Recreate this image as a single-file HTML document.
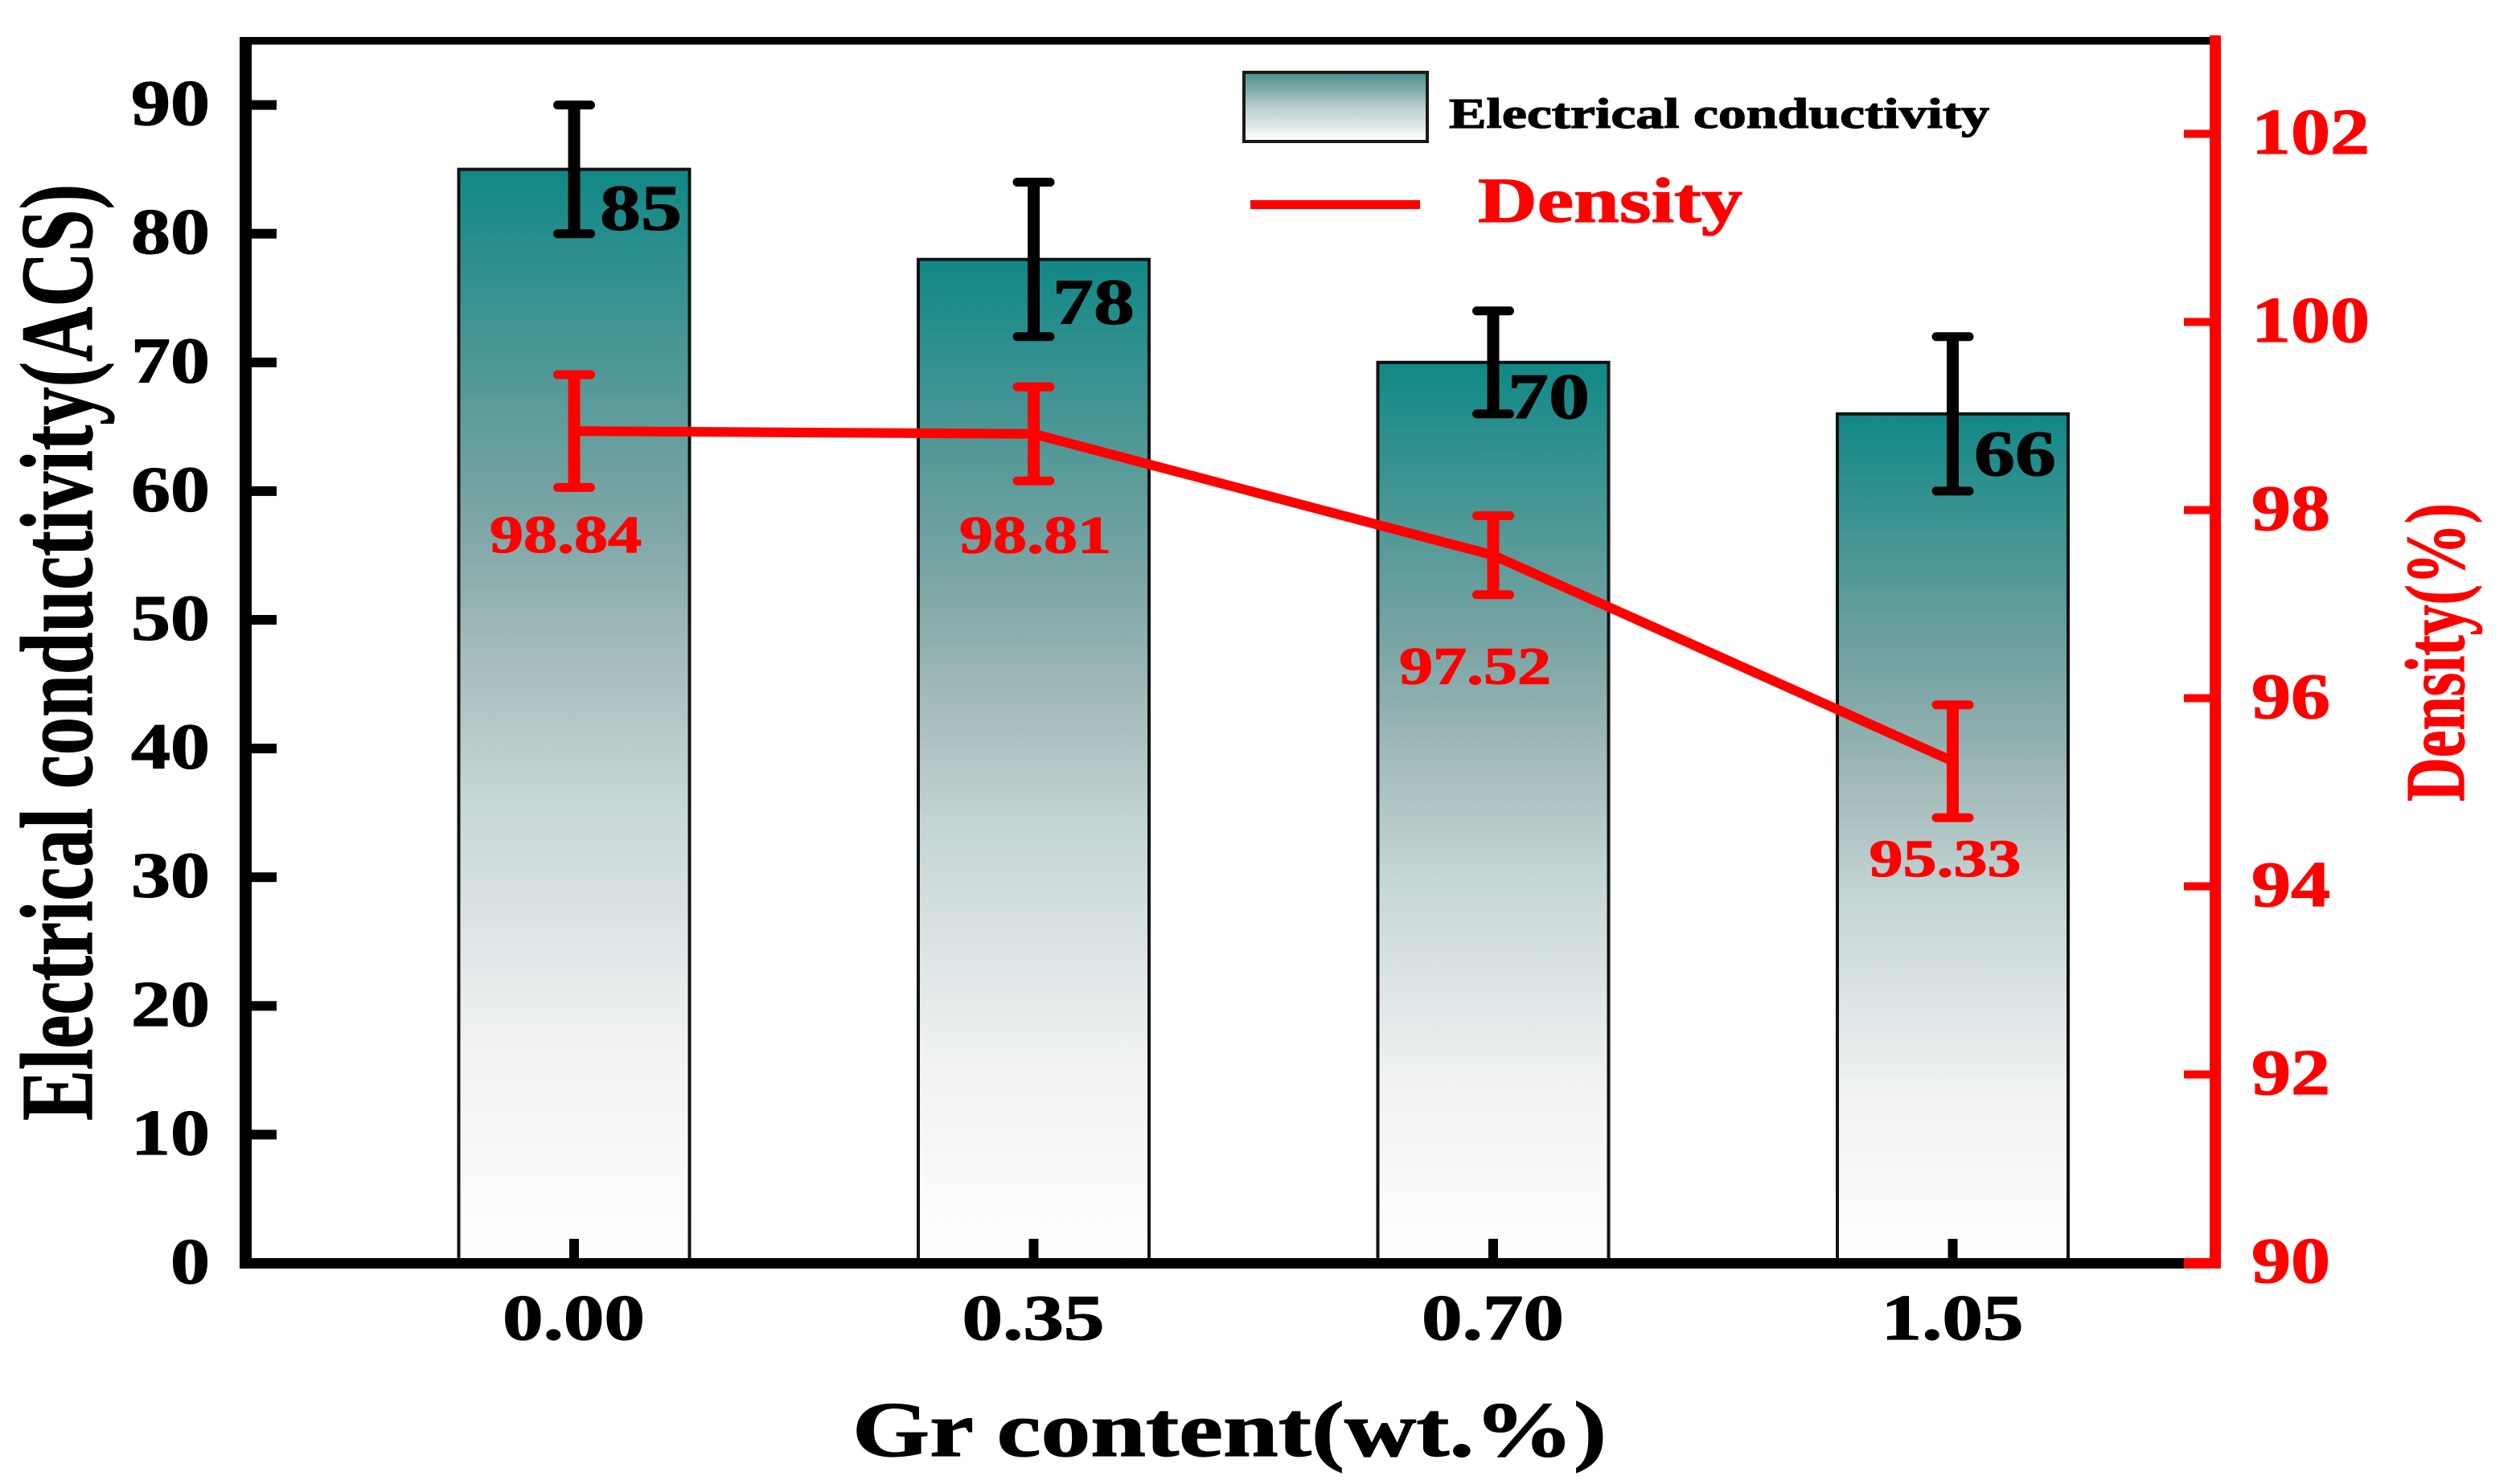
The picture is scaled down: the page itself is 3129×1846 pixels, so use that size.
<!DOCTYPE html>
<html lang="en">
<head>
<meta charset="utf-8">
<title>Electrical conductivity and density vs Gr content</title>
<style>
html,body{margin:0;padding:0;background:#fff;}
svg{display:block;}
text{font-family:"Liberation Serif",serif;font-weight:bold;stroke:#000;stroke-width:1.2px;}
text[fill="#ff0000"]{stroke:#ff0000;}
</style>
</head>
<body>
<svg id="chart" xmlns="http://www.w3.org/2000/svg" width="3129" height="1846" viewBox="0 0 3129 1846">
  <defs>
    <linearGradient id="barFill" x1="0" y1="0" x2="0" y2="1">
      <stop offset="0" stop-color="#108886"/>
      <stop offset="0.2" stop-color="#559a98"/>
      <stop offset="0.33" stop-color="#7fa7a7"/>
      <stop offset="0.42" stop-color="#9db7b7"/>
      <stop offset="0.57" stop-color="#c5d5d5"/>
      <stop offset="0.79" stop-color="#eff1f2"/>
      <stop offset="0.93" stop-color="#fafbfb"/>
      <stop offset="1" stop-color="#ffffff"/>
    </linearGradient>
    <linearGradient id="swatchFill" x1="0" y1="0" x2="0" y2="1">
      <stop offset="0" stop-color="#4a8c8c"/>
      <stop offset="0.5" stop-color="#b9cccc"/>
      <stop offset="1" stop-color="#ffffff"/>
    </linearGradient>
  </defs>
  <rect width="3129" height="1846" fill="#ffffff"/>
  <g id="bars"></g>
  <g id="blackErrors"></g>
  <g id="redSeries"></g>
  <g id="axes">
    <rect x="298" y="46" width="2450" height="9.5" fill="#000"/>
    <rect x="298" y="46" width="15" height="1532" fill="#000"/>
    <rect x="298" y="1565" width="2418" height="13" fill="#000"/>
    <rect x="2748" y="44" width="14" height="1534" fill="#ff0000"/>
    <rect x="2716" y="1565" width="46" height="13" fill="#ff0000"/>
  </g>
  <g id="ticks"></g>
  <g id="barLabels"></g>
  <g id="redLabels"></g>

  <text x="1060" y="1811" font-size="97" textLength="938" lengthAdjust="spacingAndGlyphs">Gr content(wt.%)</text>
  <text transform="translate(114,1394) rotate(-90)" x="0" y="0" font-size="128" textLength="1165" lengthAdjust="spacingAndGlyphs">Electrical conductivity(ACS)</text>
  <text fill="#ff0000" transform="translate(3064,997) rotate(-90)" x="0" y="0" font-size="105" textLength="371" lengthAdjust="spacingAndGlyphs">Density(%)</text>

  <g>
    <rect x="1547" y="90" width="228" height="86" fill="url(#swatchFill)" stroke="#1a1a1a" stroke-width="4"/>
    <text x="1802" y="159" font-size="53" textLength="672" lengthAdjust="spacingAndGlyphs">Electrical conductivity</text>
    <rect x="1555" y="249" width="211" height="11" fill="#ff0000"/>
    <text x="1838" y="276" font-size="79" fill="#ff0000" textLength="329" lengthAdjust="spacingAndGlyphs">Density</text>
  </g>
</svg>
<script>
var categories = ["0.00", "0.35", "0.70", "1.05"];
var conductivity = [85, 78, 70, 66];
var conductivityErr = [5, 6, 4, 6];
var density = [98.84, 98.81, 97.52, 95.33];
var densityErr = [0.6, 0.5, 0.42, 0.6];
var leftTickValues = [0, 10, 20, 30, 40, 50, 60, 70, 80, 90];
var rightTickValues = [90, 92, 94, 96, 98, 100, 102];

var NS = "http://www.w3.org/2000/svg";
function yLeft(v) { return 1571.5 - 16.01 * v; }
function yRight(v) { return 1570.5 - 117 * (v - 90); }
function xCat(i) { return 714 + 571.5 * i; }

function make(parent, tag, attrs, txt) {
  var el = document.createElementNS(NS, tag);
  for (var k in attrs) { el.setAttribute(k, attrs[k]); }
  if (txt !== undefined) { el.textContent = txt; }
  parent.appendChild(el);
  return el;
}
function g(id) { return document.getElementById(id); }

var BAR_W = 287;
var barNudgeX = [32, 23.5, 18, 26.5];
var barNudgeY = [75, 80, 69, 76];
var redNudgeX = [-10, 2.5, -22, -9];
var redNudgeY = [151, 148, 160, 143];

categories.forEach(function (cat, i) {
  var x = xCat(i), top = yLeft(conductivity[i]), base = yLeft(0);
  var bar = make(g("bars"), "rect", {x: x - BAR_W / 2, y: top, width: BAR_W, height: base - top, fill: "url(#barFill)", stroke: "#111", "stroke-width": 4});
  
  

  var hi = yLeft(conductivity[i] + conductivityErr[i]), lo = yLeft(conductivity[i] - conductivityErr[i]);
  var stem = make(g("blackErrors"), "line", {x1: x, x2: x, y1: hi, y2: lo, stroke: "#000", "stroke-width": 15});
  
  
  var capHi = make(g("blackErrors"), "rect", {x: x - 26, y: hi - 5.5, width: 52, height: 11, rx: 5.5, fill: "#000"});
  
  
  var capLo = make(g("blackErrors"), "rect", {x: x - 26, y: lo - 5.5, width: 52, height: 11, rx: 5.5, fill: "#000"});
  
  

  var dHi = yRight(density[i] + densityErr[i]), dLo = yRight(density[i] - densityErr[i]);
  var rStem = make(g("redSeries"), "line", {x1: x, x2: x, y1: dHi, y2: dLo, stroke: "#ff0000", "stroke-width": 15});
  
  
  var rCapHi = make(g("redSeries"), "rect", {x: x - 26, y: dHi - 5.5, width: 52, height: 11, rx: 5.5, fill: "#ff0000"});
  
  
  var rCapLo = make(g("redSeries"), "rect", {x: x - 26, y: dLo - 5.5, width: 52, height: 11, rx: 5.5, fill: "#ff0000"});
  
  

  var tick = make(g("ticks"), "rect", {x: x - 6, y: 1541, width: 12, height: 26, fill: "#000"});
  
  
  var xLab = make(g("ticks"), "text", {x: x - 89, y: 1666, "font-size": 80, textLength: 177, lengthAdjust: "spacingAndGlyphs"}, cat);
  
  

  var bLab = make(g("barLabels"), "text", {x: x + barNudgeX[i], y: top + barNudgeY[i], "font-size": 80, textLength: 102, lengthAdjust: "spacingAndGlyphs"}, String(conductivity[i]));
  
  

  var rLab = make(g("redLabels"), "text", {x: x + redNudgeX[i] - 95, y: yRight(density[i]) + redNudgeY[i], "font-size": 66, fill: "#ff0000", textLength: 189, lengthAdjust: "spacingAndGlyphs"}, density[i].toFixed(2));
  
  
});

var pts = density.map(function (d, i) { return xCat(i) + "," + yRight(d); }).join(" ");
var densityLine = make(g("redSeries"), "polyline", {points: pts, fill: "none", stroke: "#ff0000", "stroke-width": 12, "stroke-linejoin": "miter"});



leftTickValues.forEach(function (v) {
  var y = yLeft(v);
  var t = make(g("ticks"), "rect", {x: 313, y: y - 6, width: 31, height: 12, fill: "#000"});
  
  
  var s = String(v);
  var w = s.length * 49;
  var l = make(g("ticks"), "text", {x: 261 - w, y: y + 24.5, "font-size": 80, textLength: w, lengthAdjust: "spacingAndGlyphs"}, s);
  
  
});

rightTickValues.forEach(function (v) {
  var y = yRight(v);
  var t = make(g("ticks"), "rect", {x: 2716, y: y - 5, width: 32, height: 10, fill: "#ff0000"});
  
  
  var s = String(v);
  var w = s.length * 49;
  var l = make(g("ticks"), "text", {x: 2800, y: y + 24.5, "font-size": 80, fill: "#ff0000", textLength: w, lengthAdjust: "spacingAndGlyphs"}, s);
  
  
});
</script>
</body>
</html>
